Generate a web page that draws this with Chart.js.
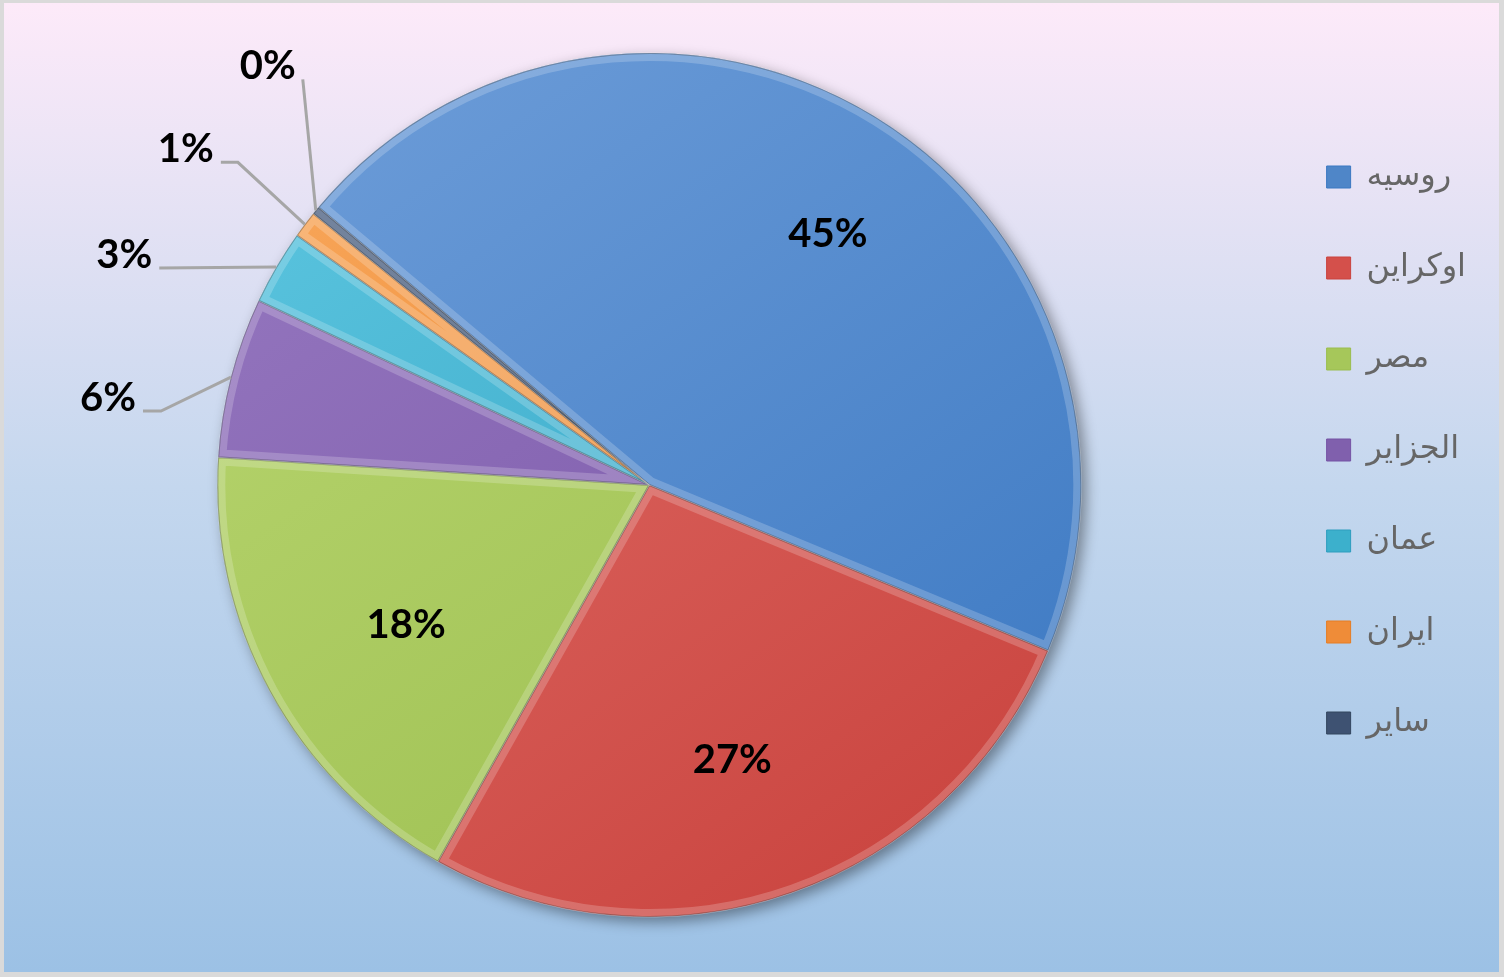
<!DOCTYPE html>
<html>
<head>
<meta charset="utf-8">
<script src="https://cdn.jsdelivr.net/npm/chart.js@4.4.1/dist/chart.umd.min.js"></script>
<style>
  html, body { margin: 0; padding: 0; background: #dcdcdc; }
  #wrap { width: 1504px; height: 977px; }
</style>
</head>
<body>
<div id="wrap"><canvas id="chart"></canvas></div>
<script>
const labels = ["روسیه", "اوکراین", "مصر", "الجزایر", "عمان", "ایران", "سایر"];
const values = [45.2, 26.9, 17.9, 6.0, 2.8, 1.0, 0.3];

const colorsLight = ["#6c9cd8", "#e2706a", "#b9d670", "#9678c0", "#5cc6e0", "#f9a85c", "#55698a"];
const colorsDark = ["#3b78c2", "#c9433e", "#9abd4e", "#7552a4", "#2e9dbe", "#e67c22", "#33465f"];
const colorsMid = ["#4f86c8", "#d4504b", "#a6c75a", "#8060ad", "#3cb0cc", "#ef8c38", "#3e5272"];

// label placement tweaks (style only)
const insideNudge = [[26, 0], [-13, -3], [15, 0]];
const leaders = [null, null, null,
  { dx: -70, dy: 34, tail: 18 },
  { dx: -117, dy: 1, tail: 0 },
  { dx: -67, dy: -62, tail: 17 },
  { dx: -13, dy: -131, tail: 0 }];

const total = values.reduce((a, b) => a + b, 0);

const background = {
  id: "background",
  beforeDraw: (chart) => {
    const { ctx, width, height } = chart;
    ctx.save();
    ctx.fillStyle = "#dadada";
    ctx.fillRect(0, 0, width, height);
    let g = ctx.createLinearGradient(0, 3, 0, height - 5);
    g.addColorStop(0, "#fdeaf9");
    g.addColorStop(0.5, "#c4d7ee");
    g.addColorStop(1, "#9cc1e5");
    ctx.fillStyle = g;
    ctx.fillRect(4, 3, width - 9, height - 8);
    ctx.restore();
  },
  beforeDatasetsDraw: (chart) => {
    // drop shadow under the whole pie
    const arc = chart.getDatasetMeta(0).data[0];
    if (!arc) return;
    const { ctx } = chart;
    ctx.save();
    ctx.shadowColor = "rgba(0,0,0,0.4)";
    ctx.shadowBlur = 14;
    ctx.shadowOffsetX = 5;
    ctx.shadowOffsetY = 5;
    ctx.fillStyle = "#5a7fb0";
    ctx.beginPath();
    ctx.arc(arc.x, arc.y, arc.outerRadius, 0, Math.PI * 2);
    ctx.fill();
    ctx.restore();
  },
};

const bevelAndLabels = {
  id: "bevelAndLabels",
  afterDatasetsDraw: (chart) => {
    const { ctx } = chart;
    const arcs = chart.getDatasetMeta(0).data;
    // bevel rim
    arcs.forEach((arc) => {
      const { x, y, startAngle, endAngle, outerRadius } = arc.getProps(["x", "y", "startAngle", "endAngle", "outerRadius"]);
      ctx.save();
      ctx.beginPath();
      ctx.moveTo(x, y);
      ctx.arc(x, y, outerRadius, startAngle, endAngle);
      ctx.closePath();
      ctx.clip();
      ctx.lineJoin = "round";
      ctx.strokeStyle = "rgba(255,255,255,0.2)";
      ctx.lineWidth = 16;
      ctx.stroke();
      ctx.strokeStyle = "rgba(0,0,0,0.28)";
      ctx.lineWidth = 2;
      ctx.stroke();
      ctx.restore();
    });
    // percentage labels
    ctx.save();
    ctx.font = "bold 40px Lato";
    ctx.fillStyle = "#000";
    arcs.forEach((arc, i) => {
      const { x, y, startAngle, endAngle, outerRadius } = arc.getProps(["x", "y", "startAngle", "endAngle", "outerRadius"]);
      const mid = (startAngle + endAngle) / 2;
      const pct = Math.round((values[i] / total) * 100);
      const text = pct + "%";
      if (!leaders[i]) {
        const n = insideNudge[i] || [0, 0];
        ctx.textAlign = "center";
        ctx.textBaseline = "middle";
        ctx.fillText(text, x + Math.cos(mid) * outerRadius * 0.68 + n[0], y + Math.sin(mid) * outerRadius * 0.68 + n[1]);
      } else {
        const l = leaders[i];
        const ex = x + Math.cos(mid) * outerRadius;
        const ey = y + Math.sin(mid) * outerRadius;
        const bx = ex + l.dx, by = ey + l.dy;
        const tx = bx - l.tail;
        ctx.strokeStyle = "#a6a6a6";
        ctx.lineWidth = 3;
        ctx.beginPath();
        ctx.moveTo(ex, ey);
        ctx.lineTo(bx, by);
        ctx.lineTo(tx, by);
        ctx.stroke();
        ctx.textAlign = "right";
        ctx.textBaseline = "alphabetic";
        ctx.fillText(text, tx - 7, by);
      }
    });
    ctx.restore();
  },
};

new Chart(document.getElementById("chart"), {
  type: "pie",
  data: {
    labels: labels,
    datasets: [
      {
        data: values,
        backgroundColor: (c) => {
          const area = c.chart.chartArea;
          if (!area) return colorsMid[c.dataIndex];
          const cx = (area.left + area.right) / 2, cy = (area.top + area.bottom) / 2;
          const g = c.chart.ctx.createLinearGradient(cx - 300, cy - 430, cx + 300, cy + 430);
          g.addColorStop(0, colorsLight[c.dataIndex]);
          g.addColorStop(1, colorsDark[c.dataIndex]);
          return g;
        },
        borderColor: "rgba(255,255,255,0.35)",
        borderWidth: 1,
        radius: 432,
      },
    ],
  },
  options: {
    responsive: true,
    maintainAspectRatio: false,
    animation: false,
    rotation: -50,
    layout: { padding: { left: 31, right: 28, top: 0, bottom: 7 } },
    plugins: {
      tooltip: { enabled: false },
      legend: {
        position: "right",
        align: "start",
        title: { display: true, text: "", padding: 45, font: { size: 10 } },
        labels: {
          boxWidth: 24,
          boxHeight: 22,
          padding: 59,
          color: "#000",
          font: { family: "DejaVu Sans", size: 32 },
          generateLabels: () =>
            labels.map((t, i) => ({
              text: t,
              fillStyle: colorsMid[i],
              strokeStyle: colorsDark[i],
              lineWidth: 1,
              index: i,
            })),
        },
      },
    },
  },
  plugins: [background, bevelAndLabels],
});
</script>
</body>
</html>
